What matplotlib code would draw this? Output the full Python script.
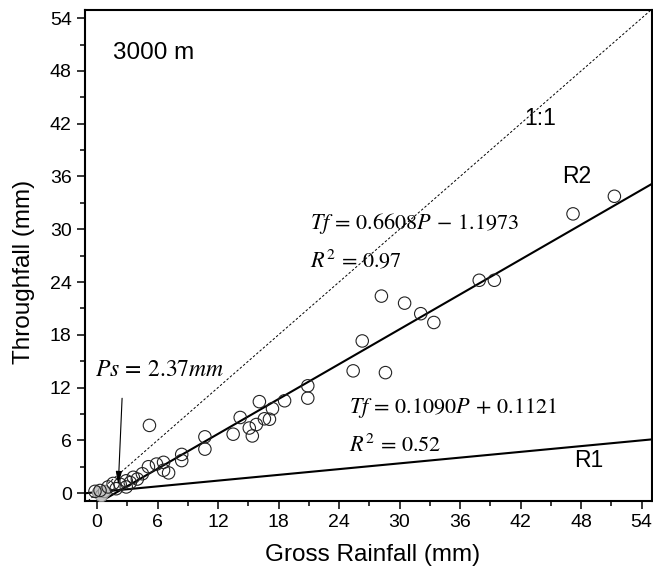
import matplotlib
matplotlib.use('Agg')
import matplotlib.pyplot as plt
import numpy as np

plt.rcParams['font.family'] = ['Liberation Sans', 'DejaVu Sans']
plt.rcParams['mathtext.fontset'] = 'stix'

# Gross rainfall P (mm) and throughfall Tf (mm)
gross_rain = [51.3, 47.2, 37.9, 39.4, 28.2, 30.5, 32.1, 33.4, 26.3, 25.4,
              28.6, 20.9, 20.9, 18.6, 16.1, 17.4, 14.2, 16.6, 17.1, 15.8,
              15.1, 13.5, 15.4, 10.7, 10.7, 5.2, 8.4, 8.4, 6.6, 5.9,
              5.1, 7.1, 6.6, 4.5, 3.6, 2.9, 2.3, 1.6, 1.1, 0.3,
              -0.2, 2.9, 4.0, 3.3, 1.9]
throughfall = [33.75, 31.75, 24.2, 24.2, 22.4, 21.6, 20.4, 19.4, 17.3, 13.9,
               13.7, 12.2, 10.8, 10.5, 10.4, 9.6, 8.6, 8.45, 8.4, 7.8,
               7.4, 6.7, 6.5, 6.4, 5.0, 7.7, 4.4, 3.7, 3.5, 3.3,
               3.0, 2.3, 2.6, 2.2, 1.8, 1.4, 1.0, 1.1, 0.7, 0.3,
               0.2, 0.7, 1.6, 1.2, 0.5]
# small events near the origin drawn with grey fill
small_rain = [0.1, 0.4, 0.7]
small_tf = [0.1, -0.2, 0.2]

# regression lines
r2_slope, r2_icpt = 0.6608, -1.1973
r1_slope, r1_icpt = 0.1090, 0.1121
ps_value = 2.37

ticks = np.arange(0, 55, 6)

fig = plt.figure(figsize=(6.53, 5.70), dpi=100)
ax = fig.add_axes([0.130, 0.121, 0.868, 0.861])

xx = np.array([-1.2, 55])
ax.plot(xx, xx, color='black', linestyle=(0, (2.5, 2)), linewidth=0.7)
ax.plot(np.array([0, 55]), r2_slope * np.array([0, 55]) + r2_icpt,
        color='black', linewidth=1.5)
ax.plot(xx, r1_slope * xx + r1_icpt, color='black', linewidth=1.5)

ax.scatter(small_rain, small_tf, s=80, facecolor='#c4c4c4',
           edgecolor='#888888', linewidth=0.7, zorder=3)
ax.scatter(gross_rain, throughfall, s=80, facecolor='none',
           edgecolor='#222222', linewidth=0.8, zorder=3)

ax.set_xlim(-1.2, 55)
ax.set_ylim(-0.9, 54.9)
ax.set_xticks(ticks)
ax.set_yticks(ticks)
ax.set_xticks(ticks[:-1] + 3, minor=True)
ax.set_yticks(ticks[:-1] + 3, minor=True)
ax.tick_params(which='major', direction='out', length=6, width=1.1,
               labelsize=14, top=False, right=False)
ax.tick_params(which='minor', direction='out', length=3.5, width=1.1,
               top=False, right=False)
for s in ax.spines.values():
    s.set_linewidth(1.5)

ax.set_xlabel('Gross Rainfall (mm)', fontsize=17.5)
ax.set_ylabel('Throughfall (mm)', fontsize=17.5)
ax.xaxis.set_label_coords(0.508, -0.088)
ax.yaxis.set_label_coords(-0.088, 0.466)

ax.text(1.6, 50, '3000 m', fontsize=17.5, va='center', ha='left')
ax.text(42.4, 42.6, '1:1', fontsize=16.5, va='center', ha='left')
ax.text(46.1, 36.0, 'R2', fontsize=16.5, va='center', ha='left')
ax.text(47.3, 3.7, 'R1', fontsize=16.5, va='center', ha='left')

ax.text(21.1, 30.6, r'$Tf\,=\,0.6608P\,-\,1.1973$', fontsize=16,
        va='center', ha='left')
ax.text(21.1, 26.5, r'$R^2\,=\,0.97$', fontsize=16, va='center', ha='left')
ax.text(25.0, 9.7, r'$Tf\,=\,0.1090P\,+\,0.1121$', fontsize=16,
        va='center', ha='left')
ax.text(25.0, 5.4, r'$R^2\,=\,0.52$', fontsize=16, va='center', ha='left')
ax.text(-0.2, 13.95, r'$Ps\,=\,%.2fmm$' % ps_value, fontsize=17,
        va='center', ha='left')

ax.annotate('', xy=(2.1, 0.6), xytext=(2.5, 11.1),
            arrowprops=dict(arrowstyle='-|>,head_width=0.18,head_length=0.8',
                            color='black', linewidth=0.8))

fig.savefig('out.png', dpi=100)
